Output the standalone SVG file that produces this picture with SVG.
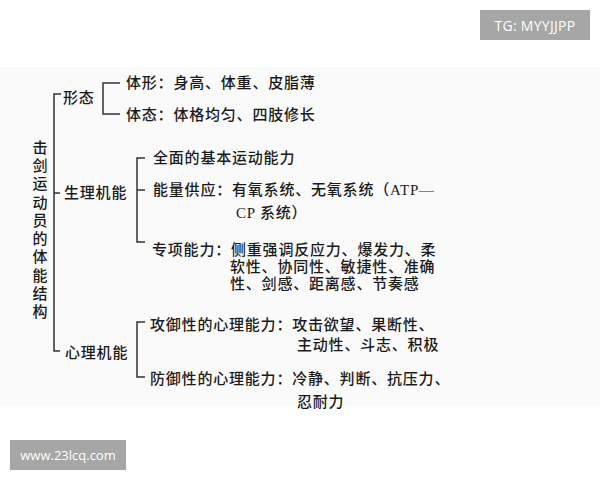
<svg xmlns="http://www.w3.org/2000/svg" width="600" height="480" viewBox="0 0 600 480">
<style>
.t{font-family:"Liberation Serif","Noto Sans CJK SC",serif;font-size:15px;font-weight:500;fill:#1a1a1a;dominant-baseline:central;letter-spacing:0.8px}
.v{font-family:"Noto Sans CJK SC",sans-serif;font-size:15px;font-weight:500;fill:#1a1a1a;writing-mode:tb;letter-spacing:3.3px}
.ln{fill:none;stroke:#333;stroke-width:1.5}
.wm{fill:#a6a6a6}
.wt{font-family:"Open Sans","Liberation Sans",sans-serif;font-size:14px;fill:#fff;dominant-baseline:central;text-anchor:middle;letter-spacing:0.3px}
.wt2{font-family:"Open Sans","Liberation Sans",sans-serif;font-size:13px;fill:#fff;dominant-baseline:central;text-anchor:middle}
</style>
<rect width="600" height="480" fill="#fff"/>
<rect x="0" y="67" width="600" height="339" fill="#fafafa"/>
<g id="connectors">
<path class="ln" d="M61,94 H54 V351 H60 M54,193 H60"/>
<path class="ln" d="M120,83 H103 V114 H120"/>
<path class="ln" d="M145,158 H137 V242 H145 M137,190 H145"/>
<path class="ln" d="M145,322 H137 V377 H145"/>
</g>
<g id="root"><text class="v" x="40" y="139.5">击剑运动员的体能结构</text></g>
<g id="xingtai"><text class="t" x="63" y="98">形态</text></g>
<g id="tixing"><text class="t" x="126" y="83">体形：身高、体重、皮脂薄</text></g>
<g id="titai"><text class="t" x="126" y="115">体态：体格均匀、四肢修长</text></g>
<g id="shengli"><text class="t" x="64" y="193">生理机能</text></g>
<g id="quanmian"><text class="t" x="153" y="158">全面的基本运动能力</text></g>
<g id="nengliang"><text class="t" x="153" y="190">能量供应：有氧系统、无氧系统（ATP—</text><text class="t" x="236" y="213">CP 系统）</text></g>
<g id="zhuanxiang"><text class="t" x="152" y="250">专项能力：侧重强调反应力、爆发力、柔</text><text class="t" x="230" y="267">软性、协同性、敏捷性、准确</text><text class="t" x="230" y="284">性、剑感、距离感、节奏感</text></g>
<g id="xinli"><text class="t" x="65" y="353">心理机能</text></g>
<g id="gongyu"><text class="t" x="150" y="325">攻御性的心理能力：攻击欲望、果断性、</text><text class="t" x="297" y="345">主动性、斗志、积极</text></g>
<g id="fangyu"><text class="t" x="150" y="379">防御性的心理能力：冷静、判断、抗压力、</text><text class="t" x="297" y="402">忍耐力</text></g>
<g id="wm1"><rect class="wm" x="480" y="10" width="110" height="30"/><text class="wt" x="535" y="25">TG: MYYJJPP</text></g>
<g id="wm2"><rect class="wm" x="10" y="440" width="116" height="30"/><text class="wt2" x="68" y="455">www.23lcq.com</text></g>
</svg>
